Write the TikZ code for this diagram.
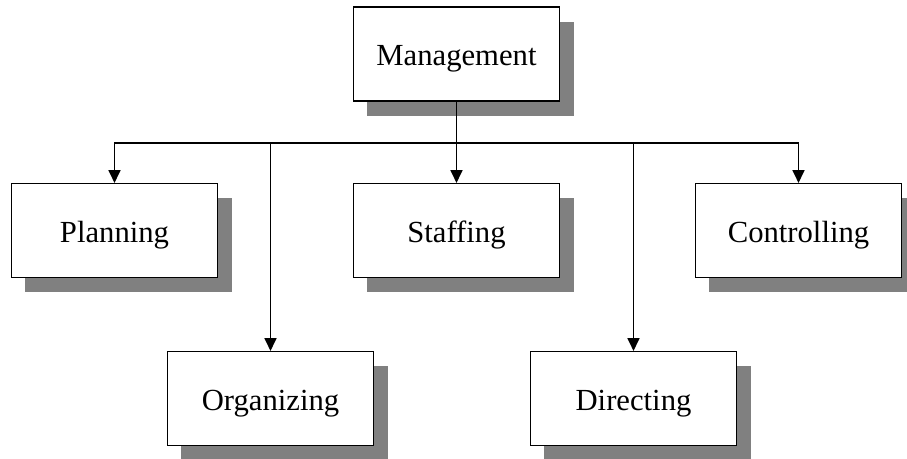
\documentclass[tikz,border=0pt]{standalone}
\usepackage{fontspec}
\setmainfont{Liberation Serif}
\usetikzlibrary{arrows.meta,positioning,shadows}
\definecolor{shadowgray}{HTML}{808080}

\begin{document}
\begin{tikzpicture}[
  x=0.75pt, y=-0.75pt,
  >={Triangle[length=9.5pt,width=9pt]},
  funcbox/.style={
    draw=black,
    fill=white,
    line width=0.9pt,
    minimum width=155pt,
    minimum height=70.5pt,
    inner sep=0pt,
    text height=18pt,
    text depth=0pt,
    font=\fontsize{23pt}{27pt}\selectfont,
    drop shadow={shadow xshift=10.5pt, shadow yshift=-11pt, fill=shadowgray, opacity=1}
  },
  link/.style={draw=black, line width=0.9pt}
]
  \useasboundingbox (0,0) rectangle (907,459);

  % top box
  \node[funcbox] (mgmt) at (456.5,54) {Management};

  % first row
  \node[funcbox] (plan)  at (114.5,230.5) {Planning};
  \node[funcbox] (staff) at (456.5,230.5) {Staffing};
  \node[funcbox] (ctrl)  at (798.5,230.5) {Controlling};

  % second row
  \node[funcbox] (org) at (270.5,398.5) {Organizing};
  \node[funcbox] (dir) at (633.5,398.5) {Directing};

  % connectors
  \coordinate (bus) at (456.5,143);
  \draw[link] (mgmt.south) -- (bus);
  \draw[link,->] (bus) -| (plan.north);
  \draw[link,->] (bus) -| (org.north);
  \draw[link,->] (bus) -- (staff.north);
  \draw[link,->] (bus) -| (dir.north);
  \draw[link,->] (bus) -| (ctrl.north);

\end{tikzpicture}
\end{document}
